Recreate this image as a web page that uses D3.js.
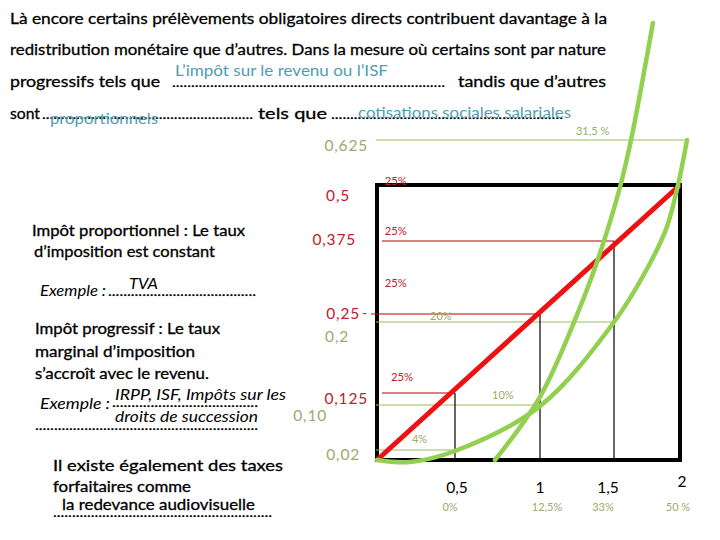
<!DOCTYPE html>
<html>
<head>
<meta charset="utf-8">
<script src="https://cdn.jsdelivr.net/npm/d3@7"></script>
<style>
  body { margin: 0; background: #fff; }
  svg { display: block; }
</style>
</head>
<body>
<div id="chart"></div>
<script>
// ---- data ----
// income (x) and tax paid (y)
var incomeSteps = [0.5, 1, 1.5];
var propTaxSteps = [0.125, 0.25, 0.375];
var progTaxLevels = [0.02, 0.10, 0.2, 0.625];
var progTaxLevelX = [0.5, 1, 1.5, 2.053];

var propX = [0, 2];
var propY = [0, 0.5];
var progAX = [0, 0.21, 0.5, 1, 1.5, 1.773, 1.9, 1.985, 2.053];
var progAY = [0, -0.004, 0.018, 0.098, 0.2, 0.337, 0.406, 0.5, 0.625];
var progBX = [0.735, 1, 1.29, 1.405, 1.545, 1.629, 1.795];
var progBY = [0, 0.117, 0.274, 0.354, 0.495, 0.625, 0.95];

var redTickValues = [0.5, 0.375, 0.25, 0.125];
var redTickLabels = ["0,5", "0,375", "0,25", "0,125"];
var greenTickValues = [0.625, 0.2, 0.10, 0.02];
var greenTickLabels = ["0,625", "0,2", "0,10", "0,02"];
var xTickValues = [0.5, 1, 1.5, 2];
var xTickLabels = ["0,5", "1", "1,5", "2"];
var xRateLabels = ["0%", "12,5%", "33%", "50 %"];

// marginal rates written in the chart (label, income, tax)
var propRateLabels = ["25%", "25%", "25%", "25%"];
var propRateX = [0.05, 0.05, 0.05, 0.09];
var propRateY = [0.5, 0.388, 0.297, 0.138];
var progRateLabels = ["4%", "10%", "20%", "31,5 %"];
var progRateX = [0.224, 0.718, 0.34, 1.243];
var progRateY = [0.032, 0.1125, 0.2125, 0.639];

// texts
var paragraph = [
  "Là encore certains prélèvements obligatoires directs contribuent davantage à la",
  "redistribution monétaire que d’autres. Dans la mesure où certains sont par nature"
];
var answers = ["L’impôt sur le revenu ou l’ISF", "proportionnels", "cotisations sociales salariales"];

// ---- setup ----
var W = 720, H = 540;
var svg = d3.select("#chart").append("svg").attr("width", W).attr("height", H);

var FONT = "Lato, 'Open Sans', sans-serif";
var TEAL = "#4f9db3", REDTXT = "#c0202a", GREENTXT = "#9aab6a";
var GREEN = "#92d050", RED = "#ee1111";

function addText(s, x, y, o) {
  o = o || {};
  var t = svg.append("text").attr("x", x).attr("y", y).text(s)
    .attr("font-family", FONT)
    .attr("font-size", o.size || 15)
    .attr("fill", o.fill || "#000")
    .attr("text-anchor", o.anchor || "start");
  if (o.italic) t.attr("font-style", "italic");
  if (o.width) t.attr("textLength", o.width).attr("lengthAdjust", "spacingAndGlyphs");
  if (o.heavy) t.attr("stroke", o.fill || "#000").attr("stroke-width", 0.3);
  return t;
}
function dots(x1, x2, y) {
  var n = Math.round((x2 - x1) / 3.8);
  addText(".".repeat(n), x1, y, { width: x2 - x1, size: 14, heavy: true });
}

// ---- paragraph ----
addText(paragraph[0], 10, 24, { width: 597, size: 15.5, heavy: true });
addText(paragraph[1], 10, 55, { width: 596, size: 15.5, heavy: true });
addText("progressifs  tels  que", 10, 87, { width: 150, size: 15.5, heavy: true });
dots(172, 445, 87);
addText("tandis  que  d’autres", 458, 87, { width: 148, size: 15.5, heavy: true });
addText("sont", 10, 119, { width: 30, size: 15.5, heavy: true });
dots(42, 253, 119);
addText("tels que", 258, 119, { width: 69, size: 15.5, heavy: true });
dots(331, 563, 119);
addText(answers[0], 175, 76, { width: 213, size: 15.5, fill: TEAL });
addText(answers[1], 50, 124, { width: 108, size: 15.5, fill: TEAL });
addText(answers[2], 358, 118, { width: 213, size: 15.5, fill: TEAL });

// ---- left notes ----
addText("Impôt proportionnel : Le taux", 32, 236, { width: 213, heavy: true });
addText("d’imposition est constant", 34, 257, { width: 181, heavy: true });
addText("Exemple : ", 40, 296, { width: 66, italic: true });
dots(108, 256, 296);
addText("TVA", 129, 289, { width: 29, italic: true });
addText("Impôt progressif : Le taux", 35, 334, { width: 185, heavy: true });
addText("marginal d’imposition", 35, 357, { width: 160, heavy: true });
addText("s’accroît avec le revenu.", 35, 379, { width: 174, heavy: true });
addText("IRPP, ISF, Impôts sur les", 115, 400, { width: 171, italic: true });
addText("Exemple : ", 40, 409, { width: 70, italic: true });
dots(112, 258, 407);
addText("droits de succession", 115, 422, { width: 143, italic: true });
dots(35, 258, 430);
addText("Il existe également des taxes", 53, 471, { width: 230, heavy: true });
addText("forfaitaires comme", 53, 492, { width: 138, heavy: true });
addText("la redevance audiovisuelle", 62, 510, { width: 193, heavy: true });
dots(53, 272, 517);

// ---- scales (hand drawn slide: piecewise calibration) ----
var xScale = d3.scaleLinear().domain([0, 0.5, 1, 1.5, 2]).range([377, 455, 540, 614, 680]);
var yScale = d3.scaleLinear()
  .domain([0, 0.02, 0.1, 0.125, 0.2, 0.25, 0.375, 0.5, 0.625])
  .range([460, 450, 405, 393, 322, 314, 241, 185, 140]);

var chart = svg.append("g");

// frame
chart.append("rect")
  .attr("x", xScale(0)).attr("y", yScale(0.5))
  .attr("width", xScale(2) - xScale(0)).attr("height", yScale(0) - yScale(0.5))
  .attr("fill", "none").attr("stroke", "#000").attr("stroke-width", 4);

// green reference lines
chart.selectAll(".gref").data(progTaxLevels).enter().append("line")
  .attr("class", "gref")
  .attr("x1", xScale(0) - 1)
  .attr("x2", function (d, i) { return xScale(progTaxLevelX[i]); })
  .attr("y1", function (d) { return yScale(d); })
  .attr("y2", function (d) { return yScale(d); })
  .attr("stroke", "#9bbb59").attr("stroke-width", 1.2);

// red reference lines
chart.selectAll(".rref").data(propTaxSteps).enter().append("line")
  .attr("class", "rref")
  .attr("x1", function (d) { return d === 0.25 ? xScale(0) - 6 : xScale(0) + 5; })
  .attr("x2", function (d, i) { return xScale(incomeSteps[i]); })
  .attr("y1", function (d) { return yScale(d); })
  .attr("y2", function (d) { return yScale(d); })
  .attr("stroke", "#c00000").attr("stroke-width", 1.2);

// vertical income lines
chart.selectAll(".vref").data(incomeSteps).enter().append("line")
  .attr("class", "vref")
  .attr("x1", function (d) { return xScale(d); })
  .attr("x2", function (d) { return xScale(d); })
  .attr("y1", function (d, i) { return yScale(propTaxSteps[i]); })
  .attr("y2", yScale(0))
  .attr("stroke", "#000").attr("stroke-width", 1.2);

// proportional tax
var straight = d3.line().x(function (d) { return xScale(d[0]); }).y(function (d) { return yScale(d[1]); });
chart.append("path")
  .datum(d3.zip(propX, propY))
  .attr("d", straight)
  .attr("fill", "none").attr("stroke", RED).attr("stroke-width", 5);

// progressive taxes
var smooth = d3.line()
  .x(function (d) { return xScale(d[0]); })
  .y(function (d) { return yScale(d[1]); })
  .curve(d3.curveCatmullRom);
[[progAX, progAY], [progBX, progBY]].forEach(function (c) {
  chart.append("path")
    .datum(d3.zip(c[0], c[1]))
    .attr("d", smooth)
    .attr("fill", "none").attr("stroke", GREEN).attr("stroke-width", 4.5)
    .attr("stroke-linecap", "round");
});

// y labels
var redNudge = [[-27, 10], [-21, -2], [-17, -1], [-9, 5]];
var greenNudge = [[-9, 5], [-28, 14], [-50, 10], [-17, 4]];
function yLabels(values, labels, nudge, color) {
  var ax = chart.append("g")
    .attr("transform", "translate(" + xScale(0) + ",0)")
    .call(d3.axisLeft(yScale).tickValues(values)
      .tickFormat(function (d, i) { return labels[i]; })
      .tickSize(0).tickPadding(0));
  ax.select(".domain").remove();
  ax.selectAll(".tick text")
    .attr("fill", color)
    .attr("font-family", FONT)
    .attr("font-size", 15.5)
    .attr("letter-spacing", 0.8)
    .attr("x", function (d, i) { return nudge[i][0]; })
    .attr("dy", function (d, i) { return (nudge[i][1] + 5) + "px"; });
}
yLabels(redTickValues, redTickLabels, redNudge, REDTXT);
yLabels(greenTickValues, greenTickLabels, greenNudge, GREENTXT);
addText("-", 362, 318, { fill: REDTXT, size: 14 });

// x labels
var xNudge = [[2, 33], [0, 33], [-6, 33], [2, 27]];
var rateNudge = [-5, 7, -11, -2];
xTickValues.forEach(function (v, i) {
  addText(xTickLabels[i], xScale(v) + xNudge[i][0], yScale(0) + xNudge[i][1], { anchor: "middle", size: 15.5 });
  addText(xRateLabels[i], xScale(v) + rateNudge[i], yScale(0) + 51, { anchor: "middle", size: 11, fill: GREENTXT });
});

// rate annotations
propRateLabels.forEach(function (s, i) {
  addText(s, xScale(propRateX[i]), yScale(propRateY[i]), { size: 11.5, fill: REDTXT, width: 22 });
});
progRateLabels.forEach(function (s, i) {
  addText(s, xScale(progRateX[i]), yScale(progRateY[i]), { size: 11, fill: GREENTXT });
});
</script>
</body>
</html>
